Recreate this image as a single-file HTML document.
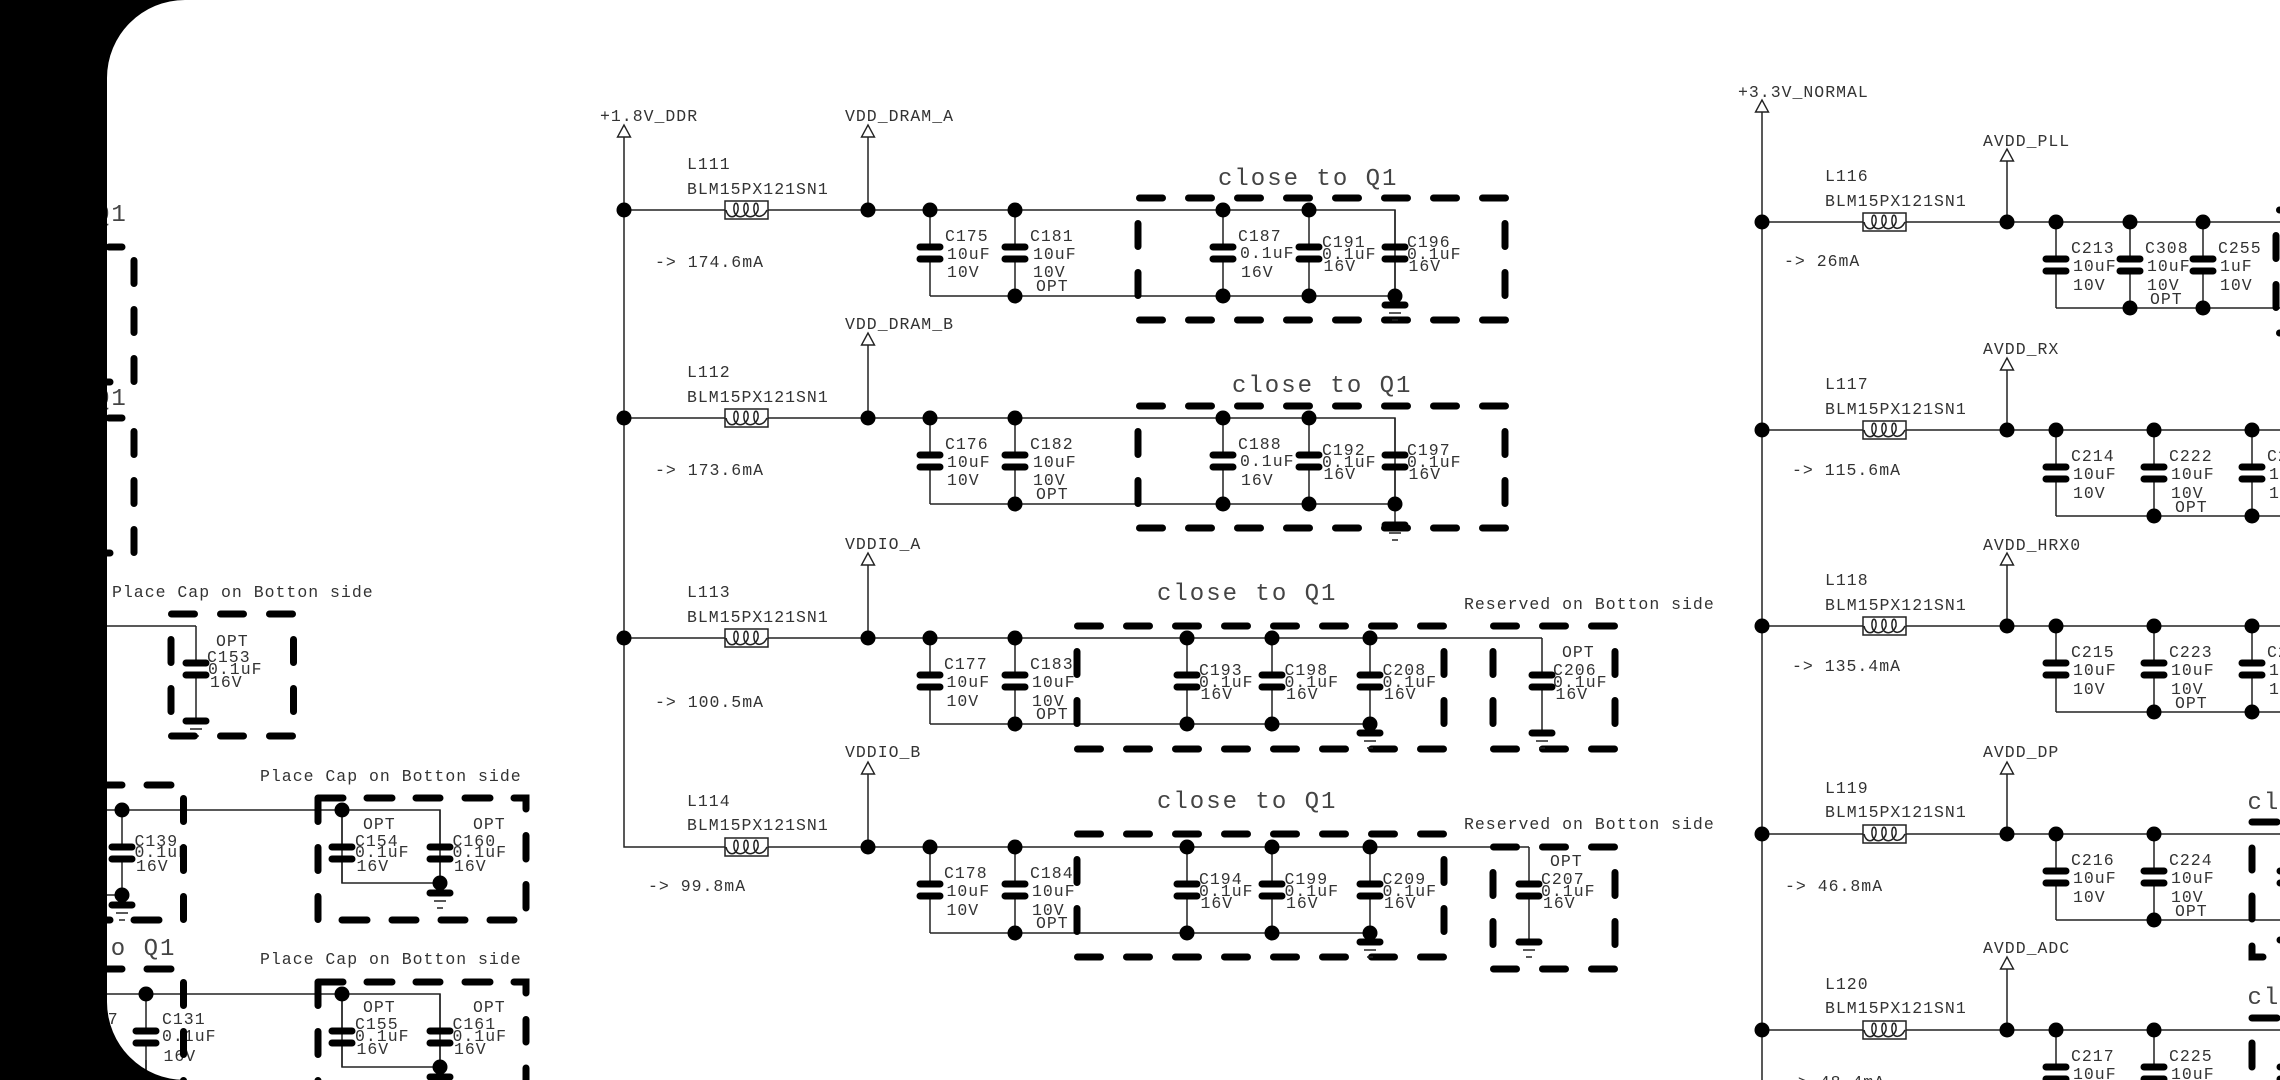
<!DOCTYPE html>
<html><head><meta charset="utf-8"><style>
html,body{margin:0;padding:0;background:#fff;width:2280px;height:1080px;overflow:hidden}
svg{display:block}
text{font-family:"Liberation Mono",monospace;font-size:16.5px;letter-spacing:1px;fill:#333;transform:translateY(-1px)}
text.b{font-size:24px;letter-spacing:2px;fill:#444}
.w{fill:none;stroke:#222;stroke-width:1.5}
.k{fill:none;stroke:#000;stroke-width:7;stroke-linecap:round}
.h{fill:none;stroke:#000;stroke-width:7;stroke-linecap:round;stroke-dasharray:23 26}
</style></head><body>
<svg width="2280" height="1080" viewBox="0 0 2280 1080" xmlns="http://www.w3.org/2000/svg">
<defs>
<circle id="d" r="7.500" fill="#000"/>
<g id="c"><path class="w" d="M0 0V37M0 49V86"/><path class="k" d="M-10 37H10M-10 49H10"/></g>
<g id="e"><path class="w" d="M0 0V37M0 49V73"/><path class="k" d="M-10 37H10M-10 49H10"/></g>
<g id="g"><path class="k" d="M-10 0H10"/><path class="w" d="M-6 8H6M-3 15H3"/></g>
<polygon id="a" points="0,0 -6.5,12 6.5,12" fill="#fff" stroke="#222" stroke-width="1.4"/>
<g id="l"><rect x="0" y="-9" width="43" height="18" fill="#fff" stroke="#222" stroke-width="1.5"/><path class="w" d="M1 0C3 9 11 9 13 0C14-9 8-9 9 0C10 9 20 9 23 0C24-9 18-9 19 0C20 9 30 9 33 0C34-9 28-9 29 0C30 9 38 8 42 0"/></g>
<g id="b1"><path class="h" d="M1139.5-12H1506M1139.5 110H1506M1138 13.5V86M1505 13.5V86"/></g>
<g id="b3"><path class="h" d="M1077.5-12H1445M1077.5 111H1445M1077 13.5V86M1444 13.5V86"/></g>
</defs>

<!-- LEFT SECTION -->
<text class="b" x="95" y="222">Q1</text>
<text class="b" x="95" y="406">Q1</text>
<path class="h" d="M60 247H122M60 418H122M134 260.5V384M134 431.5V556"/>
<path class="k" d="M100 382H110M100 553H110"/>
<text x="112" y="598">Place Cap on Botton side</text>
<path class="w" d="M100 626H196M196 712V721"/>
<use href="#c" x="196" y="626"/><use href="#g" x="196" y="721"/>
<path class="h" d="M171.500 614H296M171.500 736H296M171 639.500V712M293.500 639.500V712"/>
<text x="216" y="647">OPT</text><text x="207" y="663">C153</text><text x="208" y="675">0.1uF</text><text x="210" y="688">16V</text>

<path class="k" d="M100 785H122M147 785H171M100 920H110M134 920H159"/>
<path class="w" d="M100 810H440V883H342V810M100 895H122"/>
<use href="#c" x="122" y="810"/><use href="#d" x="122" y="810"/><use href="#d" x="122" y="895"/><use href="#g" x="122" y="905"/>
<text x="134.500" y="847">C139</text><text x="134.500" y="858">0.1uF</text><text x="136" y="872">16V</text>
<path class="h" d="M183.500 798.500V923M318 798.500V923"/>
<text x="260" y="782">Place Cap on Botton side</text>
<path class="k" d="M318 798H343M367 798H392M416 798H440M465 798H490M514 798H526V809M526 835.500V859M526 884.500V908M342 920H367M392 920H416M441 920H465M490 920H514"/>
<use href="#e" x="342" y="810"/><use href="#e" x="440" y="810"/><use href="#d" x="342" y="810"/><use href="#d" x="440" y="883"/><use href="#g" x="440" y="893"/>
<text x="363" y="830">OPT</text><text x="355" y="847">C154</text><text x="355" y="858">0.1uF</text><text x="356.500" y="872">16V</text>
<text x="473" y="830">OPT</text><text x="452.500" y="847">C160</text><text x="452.500" y="858">0.1uF</text><text x="454" y="872">16V</text>

<text class="b" x="94.400" y="956">to Q1</text>
<path class="k" d="M100 969H122M147 969H171"/>
<path class="w" d="M100 994H440V1067H342V994"/>
<use href="#c" x="146" y="994"/><path class="w" d="M146 1080V1060"/><use href="#d" x="146" y="994"/>
<text x="75" y="1025">C137</text>
<text x="162" y="1025">C131</text><text x="162" y="1042">0.1uF</text><text x="163.500" y="1062">16V</text>
<path class="h" d="M183.500 982.500V1110M318 982.500V1110"/>
<text x="260" y="965">Place Cap on Botton side</text>
<path class="k" d="M318 982H343M367 982H392M416 982H440M465 982H490M514 982H526V993M526 1019.500V1042M526 1068V1090"/>
<use href="#e" x="342" y="994"/><use href="#e" x="440" y="994"/><use href="#d" x="342" y="994"/><use href="#d" x="440" y="1067"/><use href="#g" x="440" y="1077"/>
<text x="363" y="1013">OPT</text><text x="355" y="1030">C155</text><text x="355" y="1042">0.1uF</text><text x="356.500" y="1055">16V</text>
<text x="473" y="1013">OPT</text><text x="452.500" y="1030">C161</text><text x="452.500" y="1042">0.1uF</text><text x="454" y="1055">16V</text>

<!-- MIDDLE SECTION -->
<path class="w" d="M624 137V847H725M868 137V210M868 345V418M868 565V638M868 774V847
M624 210H725M767 210H1395V305M930 296H1395
M624 418H725M767 418H1395V525M930 504H1395
M624 638H725M767 638H1542M930 724H1370V733M1542 724V733
M767 847H1529M930 933H1370V942M1529 933V942"/>
<use href="#a" x="624" y="125"/><use href="#a" x="868" y="125"/><use href="#a" x="868" y="333"/><use href="#a" x="868" y="553"/><use href="#a" x="868" y="762"/>
<use href="#l" x="725" y="210"/><use href="#l" x="725" y="418"/><use href="#l" x="725" y="638"/><use href="#l" x="725" y="847"/>
<text x="600" y="122">+1.8V_DDR</text><text x="845" y="122">VDD_DRAM_A</text>
<text x="845" y="330">VDD_DRAM_B</text><text x="845" y="550">VDDIO_A</text><text x="845" y="758">VDDIO_B</text>
<text x="687" y="170">L111</text><text x="687" y="195">BLM15PX121SN1</text><text x="655" y="268">-&gt; 174.6mA</text>
<text x="687" y="378">L112</text><text x="687" y="403">BLM15PX121SN1</text><text x="655" y="476">-&gt; 173.6mA</text>
<text x="687" y="598">L113</text><text x="687" y="623">BLM15PX121SN1</text><text x="655" y="708">-&gt; 100.5mA</text>
<text x="687" y="807">L114</text><text x="687" y="831">BLM15PX121SN1</text><text x="648" y="892">-&gt; 99.8mA</text>

<!-- row 1 -->
<use href="#c" x="930" y="210"/><use href="#c" x="1015" y="210"/><use href="#c" x="1223" y="210"/><use href="#c" x="1309" y="210"/><use href="#c" x="1395" y="210"/>
<use href="#b1" y="210"/>
<use href="#d" x="624" y="210"/><use href="#d" x="868" y="210"/><use href="#d" x="930" y="210"/><use href="#d" x="1015" y="210"/><use href="#d" x="1223" y="210"/><use href="#d" x="1309" y="210"/>
<use href="#d" x="1015" y="296"/><use href="#d" x="1223" y="296"/><use href="#d" x="1309" y="296"/><use href="#d" x="1395" y="296"/><use href="#g" x="1395" y="305"/>
<text class="b" x="1218" y="186">close to Q1</text>
<text x="945" y="242">C175</text><text x="947" y="260">10uF</text><text x="947" y="278">10V</text>
<text x="1030" y="242">C181</text><text x="1033" y="260">10uF</text><text x="1033" y="278">10V</text><text x="1036" y="292">OPT</text>
<text x="1238" y="242">C187</text><text x="1240" y="259">0.1uF</text><text x="1241" y="278">16V</text>
<text x="1322" y="248">C191</text><text x="1322" y="260">0.1uF</text><text x="1323.500" y="272">16V</text>
<text x="1407" y="248">C196</text><text x="1407" y="260">0.1uF</text><text x="1408.500" y="272">16V</text>

<!-- row 2 -->
<use href="#c" x="930" y="418"/><use href="#c" x="1015" y="418"/><use href="#c" x="1223" y="418"/><use href="#c" x="1309" y="418"/><use href="#c" x="1395" y="418"/>
<use href="#b1" y="418"/>
<use href="#d" x="624" y="418"/><use href="#d" x="868" y="418"/><use href="#d" x="930" y="418"/><use href="#d" x="1015" y="418"/><use href="#d" x="1223" y="418"/><use href="#d" x="1309" y="418"/>
<use href="#d" x="1015" y="504"/><use href="#d" x="1223" y="504"/><use href="#d" x="1309" y="504"/><use href="#d" x="1395" y="504"/><use href="#g" x="1395" y="525"/>
<text class="b" x="1232" y="393">close to Q1</text>
<text x="945" y="450">C176</text><text x="947" y="468">10uF</text><text x="947" y="486">10V</text>
<text x="1030" y="450">C182</text><text x="1033" y="468">10uF</text><text x="1033" y="486">10V</text><text x="1036" y="500">OPT</text>
<text x="1238" y="450">C188</text><text x="1240" y="467">0.1uF</text><text x="1241" y="486">16V</text>
<text x="1322" y="456">C192</text><text x="1322" y="468">0.1uF</text><text x="1323.500" y="480">16V</text>
<text x="1407" y="456">C197</text><text x="1407" y="468">0.1uF</text><text x="1408.500" y="480">16V</text>

<!-- row 3 -->
<use href="#c" x="930" y="638"/><use href="#c" x="1015" y="638"/><use href="#c" x="1187" y="638"/><use href="#c" x="1272" y="638"/><use href="#c" x="1370" y="638"/><use href="#c" x="1542" y="638"/>
<use href="#b3" y="638"/>
<path class="h" d="M1493.500 626H1615M1493.500 749H1615M1493 651.500V724M1615 651.500V724"/>
<use href="#d" x="624" y="638"/><use href="#d" x="868" y="638"/><use href="#d" x="930" y="638"/><use href="#d" x="1015" y="638"/><use href="#d" x="1187" y="638"/><use href="#d" x="1272" y="638"/><use href="#d" x="1370" y="638"/>
<use href="#d" x="1015" y="724"/><use href="#d" x="1187" y="724"/><use href="#d" x="1272" y="724"/><use href="#d" x="1370" y="724"/><use href="#g" x="1370" y="733"/><use href="#g" x="1542" y="733"/>
<text class="b" x="1157" y="601">close to Q1</text>
<text x="1464" y="610">Reserved on Botton side</text>
<text x="944" y="670">C177</text><text x="946.500" y="688">10uF</text><text x="946.500" y="707">10V</text>
<text x="1030" y="670">C183</text><text x="1032" y="688">10uF</text><text x="1032" y="707">10V</text><text x="1036" y="720">OPT</text>
<text x="1199" y="676">C193</text><text x="1199" y="688">0.1uF</text><text x="1200.500" y="700">16V</text>
<text x="1284.500" y="676">C198</text><text x="1284.500" y="688">0.1uF</text><text x="1286" y="700">16V</text>
<text x="1382.500" y="676">C208</text><text x="1382.500" y="688">0.1uF</text><text x="1384" y="700">16V</text>
<text x="1562" y="658">OPT</text><text x="1553" y="676">C206</text><text x="1553" y="688">0.1uF</text><text x="1555.500" y="700">16V</text>

<!-- row 4 -->
<use href="#c" x="930" y="847"/><use href="#c" x="1015" y="847"/><use href="#c" x="1187" y="847"/><use href="#c" x="1272" y="847"/><use href="#c" x="1370" y="847"/><use href="#c" x="1529" y="847"/>
<use href="#b3" y="846"/>
<path class="h" d="M1493.500 847H1615M1493.500 969H1615M1493 872.500V945M1615 872.500V945"/>
<use href="#d" x="868" y="847"/><use href="#d" x="930" y="847"/><use href="#d" x="1015" y="847"/><use href="#d" x="1187" y="847"/><use href="#d" x="1272" y="847"/><use href="#d" x="1370" y="847"/>
<use href="#d" x="1015" y="933"/><use href="#d" x="1187" y="933"/><use href="#d" x="1272" y="933"/><use href="#d" x="1370" y="933"/><use href="#g" x="1370" y="942"/><use href="#g" x="1529" y="942"/>
<text class="b" x="1157" y="809">close to Q1</text>
<text x="1464" y="830">Reserved on Botton side</text>
<text x="944" y="879">C178</text><text x="946.500" y="897">10uF</text><text x="946.500" y="916">10V</text>
<text x="1030" y="879">C184</text><text x="1032" y="897">10uF</text><text x="1032" y="916">10V</text><text x="1036" y="929">OPT</text>
<text x="1199" y="885">C194</text><text x="1199" y="897">0.1uF</text><text x="1200.500" y="909">16V</text>
<text x="1284.500" y="885">C199</text><text x="1284.500" y="897">0.1uF</text><text x="1286" y="909">16V</text>
<text x="1382.500" y="885">C209</text><text x="1382.500" y="897">0.1uF</text><text x="1384" y="909">16V</text>
<text x="1550" y="867">OPT</text><text x="1541" y="885">C207</text><text x="1541" y="897">0.1uF</text><text x="1543" y="909">16V</text>

<!-- RIGHT SECTION -->
<path class="w" d="M1762 112V1080M2007 161V222M2007 370V430M2007 565V626M2007 774V834M2007 969V1030
M1762 222H1863M1906 222H2280M2056 308H2280
M1762 430H1863M1906 430H2280M2056 516H2280
M1762 626H1863M1906 626H2280M2056 712H2280
M1762 834H1863M1906 834H2280M2056 920H2280
M1762 1030H1863M1906 1030H2280"/>
<use href="#a" x="1762" y="100"/><use href="#a" x="2007" y="149"/><use href="#a" x="2007" y="358"/><use href="#a" x="2007" y="553"/><use href="#a" x="2007" y="762"/><use href="#a" x="2007" y="957"/>
<use href="#l" x="1863" y="222"/><use href="#l" x="1863" y="430"/><use href="#l" x="1863" y="626"/><use href="#l" x="1863" y="834"/><use href="#l" x="1863" y="1030"/>
<text x="1738" y="98">+3.3V_NORMAL</text>
<text x="1983" y="147">AVDD_PLL</text><text x="1983" y="355">AVDD_RX</text><text x="1983" y="551">AVDD_HRX0</text><text x="1983" y="758">AVDD_DP</text><text x="1983" y="954">AVDD_ADC</text>
<text x="1825" y="182">L116</text><text x="1825" y="207">BLM15PX121SN1</text><text x="1784" y="267">-&gt; 26mA</text>
<text x="1825" y="390">L117</text><text x="1825" y="415">BLM15PX121SN1</text><text x="1792" y="476">-&gt; 115.6mA</text>
<text x="1825" y="586">L118</text><text x="1825" y="611">BLM15PX121SN1</text><text x="1792" y="672">-&gt; 135.4mA</text>
<text x="1825" y="794">L119</text><text x="1825" y="818">BLM15PX121SN1</text><text x="1785" y="892">-&gt; 46.8mA</text>
<text x="1825" y="990">L120</text><text x="1825" y="1014">BLM15PX121SN1</text><text x="1787" y="1088">-&gt; 48.4mA</text>

<use href="#c" x="2056" y="222"/><use href="#c" x="2130" y="222"/><use href="#c" x="2203" y="222"/>
<use href="#d" x="1762" y="222"/><use href="#d" x="2007" y="222"/><use href="#d" x="2056" y="222"/><use href="#d" x="2130" y="222"/><use href="#d" x="2203" y="222"/><use href="#d" x="2130" y="308"/><use href="#d" x="2203" y="308"/>
<text x="2071" y="254">C213</text><text x="2073" y="272">10uF</text><text x="2073" y="291">10V</text>
<text x="2145" y="254">C308</text><text x="2147" y="272">10uF</text><text x="2147" y="291">10V</text><text x="2150" y="305">OPT</text>
<text x="2218" y="254">C255</text><text x="2220" y="272">1uF</text><text x="2220" y="291">10V</text>
<path class="h" d="M2276 235.500V308M2279.500 210H2300M2279.500 333H2300"/>

<use href="#c" x="2056" y="430"/><use href="#c" x="2154" y="430"/><use href="#c" x="2252" y="430"/>
<use href="#d" x="1762" y="430"/><use href="#d" x="2007" y="430"/><use href="#d" x="2056" y="430"/><use href="#d" x="2154" y="430"/><use href="#d" x="2252" y="430"/><use href="#d" x="2154" y="516"/><use href="#d" x="2252" y="516"/>
<text x="2071" y="462">C214</text><text x="2073" y="480">10uF</text><text x="2073" y="499">10V</text>
<text x="2169" y="462">C222</text><text x="2171" y="480">10uF</text><text x="2171" y="499">10V</text><text x="2175" y="513">OPT</text>
<text x="2267" y="462">C230</text><text x="2269" y="480">10uF</text><text x="2269" y="499">10V</text>

<use href="#c" x="2056" y="626"/><use href="#c" x="2154" y="626"/><use href="#c" x="2252" y="626"/>
<use href="#d" x="1762" y="626"/><use href="#d" x="2007" y="626"/><use href="#d" x="2056" y="626"/><use href="#d" x="2154" y="626"/><use href="#d" x="2252" y="626"/><use href="#d" x="2154" y="712"/><use href="#d" x="2252" y="712"/>
<text x="2071" y="658">C215</text><text x="2073" y="676">10uF</text><text x="2073" y="695">10V</text>
<text x="2169" y="658">C223</text><text x="2171" y="676">10uF</text><text x="2171" y="695">10V</text><text x="2175" y="709">OPT</text>
<text x="2267" y="658">C231</text><text x="2269" y="676">10uF</text><text x="2269" y="695">10V</text>

<use href="#c" x="2056" y="834"/><use href="#c" x="2154" y="834"/><use href="#c" x="2290" y="834"/>
<use href="#d" x="1762" y="834"/><use href="#d" x="2007" y="834"/><use href="#d" x="2056" y="834"/><use href="#d" x="2154" y="834"/><use href="#d" x="2154" y="920"/>
<text x="2071" y="866">C216</text><text x="2073" y="884">10uF</text><text x="2073" y="903">10V</text>
<text x="2169" y="866">C224</text><text x="2171" y="884">10uF</text><text x="2171" y="903">10V</text><text x="2175" y="917">OPT</text>
<text class="b" x="2247.500" y="810">close to Q1</text>
<path class="k" d="M2252 822H2277M2252 848V870M2252 896V919M2252 946V957H2263M2280 940H2290"/>

<use href="#c" x="2056" y="1030"/><use href="#c" x="2154" y="1030"/><use href="#c" x="2290" y="1030"/>
<use href="#d" x="1762" y="1030"/><use href="#d" x="2007" y="1030"/><use href="#d" x="2056" y="1030"/><use href="#d" x="2154" y="1030"/>
<text x="2071" y="1062">C217</text><text x="2073" y="1080">10uF</text>
<text x="2169" y="1062">C225</text><text x="2171" y="1080">10uF</text>
<text class="b" x="2247.500" y="1005">close to Q1</text>
<path class="k" d="M2252 1018H2277M2252 1043V1067"/>

<!-- black frame -->
<path d="M0 0H185A78 78 0 0 0 107 78V1002A78 78 0 0 0 185 1080H0Z" fill="#000"/>
</svg>
</body></html>
